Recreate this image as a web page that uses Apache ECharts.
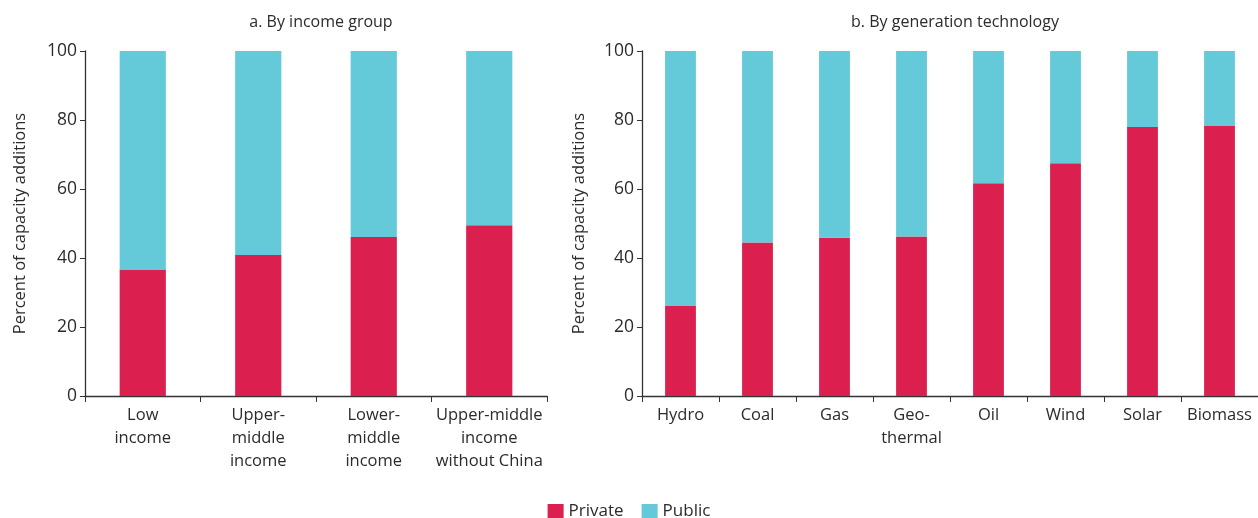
<!DOCTYPE html>
<html><head><meta charset="utf-8">
<script src="https://cdn.jsdelivr.net/npm/echarts@6/dist/echarts.min.js"></script>
<style>html,body{margin:0;padding:0;background:#fff}#c{width:1258px;height:518px}</style>
</head><body><div id="c"></div>
<script>
const incomeCategories = ['Low\nincome', 'Upper-\nmiddle\nincome', 'Lower-\nmiddle\nincome', 'Upper-middle\nincome\nwithout China'];
const incomePrivate = [36.7, 40.9, 46.1, 49.5];
const incomePublic = incomePrivate.map(v => +(100 - v).toFixed(1));
const techCategories = ['Hydro', 'Coal', 'Gas', 'Geo-\nthermal', 'Oil', 'Wind', 'Solar', 'Biomass'];
const techPrivate = [26.1, 44.5, 45.9, 46.2, 61.7, 67.5, 78.0, 78.4];
const techPublic = techPrivate.map(v => +(100 - v).toFixed(1));
const titles = ['a. By income group', 'b. By generation technology'];
const yName = 'Percent of capacity additions';

const FONT = 'Open Sans';
const TXT = '#2b2b2b';
const RED = '#DB1F4F';
const CYAN = '#64C9D8';

const chart = echarts.init(document.getElementById('c'), null, {renderer: 'canvas'});
function xAxis(idx, data) {
  return {
    type: 'category', gridIndex: idx, data: data,
    axisLine: {lineStyle: {color: '#333', width: 1.3}},
    axisTick: {show: true, alignWithLabel: false, length: 6, lineStyle: {color: '#333'}},
    axisLabel: {color: TXT, fontFamily: FONT, fontSize: 16.5, lineHeight: 23, margin: 8, interval: 0}
  };
}
function yAxis(idx, gap) {
  return {
    type: 'value', gridIndex: idx, min: 0, max: 100, interval: 20,
    name: yName, nameLocation: 'middle', nameGap: gap, nameRotate: 90,
    nameTextStyle: {color: TXT, fontFamily: FONT, fontSize: 16.5},
    axisLine: {show: true, lineStyle: {color: '#333', width: 1.3}},
    axisTick: {show: true, length: 5, lineStyle: {color: '#333'}},
    splitLine: {show: false},
    axisLabel: {color: TXT, fontFamily: FONT, fontSize: 17.5, margin: 8}
  };
}
chart.setOption({
  animation: false,
  textStyle: {fontFamily: FONT},
  title: [
    {text: titles[0], left: 316, top: 9, textAlign: 'center', textStyle: {color: TXT, fontFamily: FONT, fontSize: 16, fontWeight: 'normal'}},
    {text: titles[1], left: 950, top: 9, textAlign: 'center', textStyle: {color: TXT, fontFamily: FONT, fontSize: 16, fontWeight: 'normal'}}
  ],
  legend: {
    data: ['Private', 'Public'], top: 498, left: 'center', padding: [5, 5, 0, 5], itemWidth: 16, itemHeight: 15, itemGap: 18,
    icon: 'rect', textStyle: {color: TXT, fontFamily: FONT, fontSize: 17}
  },
  grid: [
    {left: 85, width: 462, top: 51, height: 345},
    {left: 642, width: 616, top: 51, height: 345}
  ],
  xAxis: [xAxis(0, incomeCategories), xAxis(1, techCategories)],
  yAxis: [yAxis(0, 56), yAxis(1, 54)],
  series: [
    {name: 'Private', type: 'bar', stack: 'a', xAxisIndex: 0, yAxisIndex: 0, barWidth: '40%', data: incomePrivate, itemStyle: {color: RED}},
    {name: 'Public', type: 'bar', stack: 'a', xAxisIndex: 0, yAxisIndex: 0, barWidth: '40%', data: incomePublic, itemStyle: {color: CYAN}},
    {name: 'Private', type: 'bar', stack: 'b', xAxisIndex: 1, yAxisIndex: 1, barWidth: '40%', data: techPrivate, itemStyle: {color: RED}},
    {name: 'Public', type: 'bar', stack: 'b', xAxisIndex: 1, yAxisIndex: 1, barWidth: '40%', data: techPublic, itemStyle: {color: CYAN}}
  ]
});
</script></body></html>
